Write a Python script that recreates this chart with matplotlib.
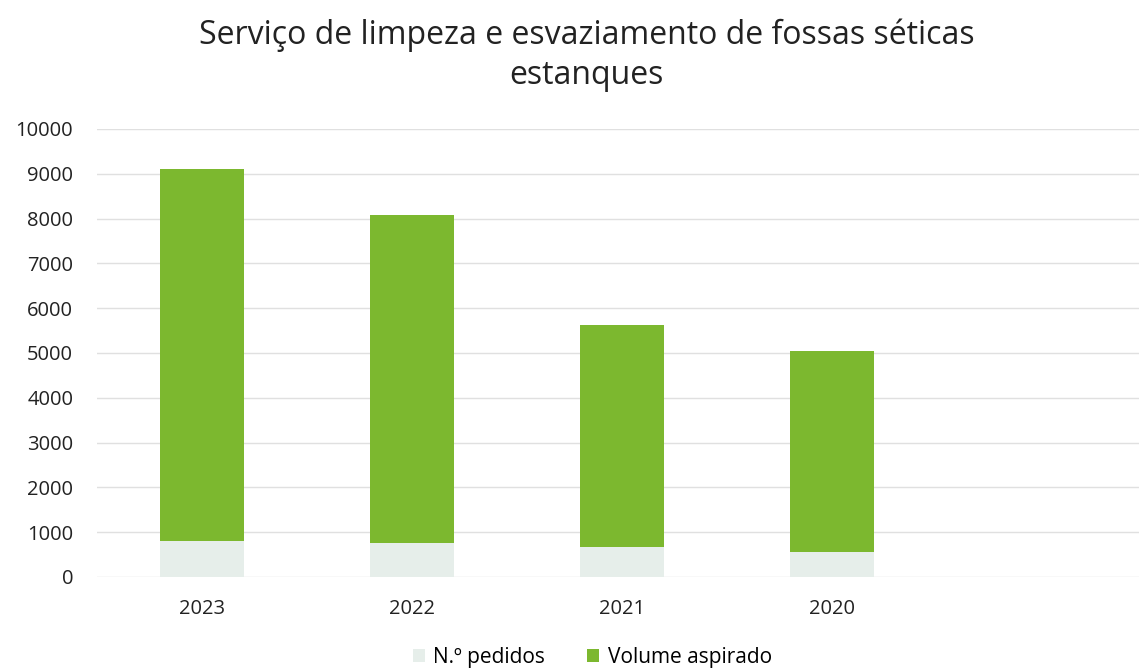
import matplotlib.pyplot as plt
import numpy as np

plt.rcParams['font.family'] = ['Open Sans', 'DejaVu Sans']

anos = ['2023', '2022', '2021', '2020']
pedidos = [800, 760, 670, 560]
volume = [8310, 7320, 4955, 4485]

cor_pedidos = '#e6eeea'
cor_volume = '#7cb82f'

fig = plt.figure(figsize=(11.39, 6.72), dpi=100)
ax = fig.add_axes([0.085, 0.1414, 0.922, 0.6667])

x = np.arange(len(anos))
ax.bar(x, pedidos, width=0.4, color=cor_pedidos, label='N.º pedidos', zorder=3)
ax.bar(x, volume, width=0.4, bottom=pedidos, color=cor_volume, label='Volume aspirado', zorder=3)

ax.set_xlim(-0.5, 4.5)
ax.set_ylim(0, 10000)
ax.set_yticks(np.arange(0, 10001, 1000))
ax.set_xticks(x)
ax.set_xticklabels(anos)
ax.tick_params(axis='both', length=0, labelsize=14.5, colors='#222222')
ax.tick_params(axis='x', pad=16)
ax.tick_params(axis='y', pad=17)
ax.grid(axis='y', color='#e0e0e0', linewidth=1, zorder=0)
for s in ax.spines.values():
    s.set_visible(False)

fig.suptitle('Serviço de limpeza e esvaziamento de fossas séticas\nestanques',
             x=0.515, y=0.973, fontsize=23, color='#222222', linespacing=1.3)

fig.legend(loc='lower center', bbox_to_anchor=(0.52, -0.022), ncol=2, frameon=False,
           fontsize=15, handlelength=0.6, handleheight=0.6, columnspacing=2.0,
           handletextpad=0.4)

fig.savefig('out.png', dpi=100)
